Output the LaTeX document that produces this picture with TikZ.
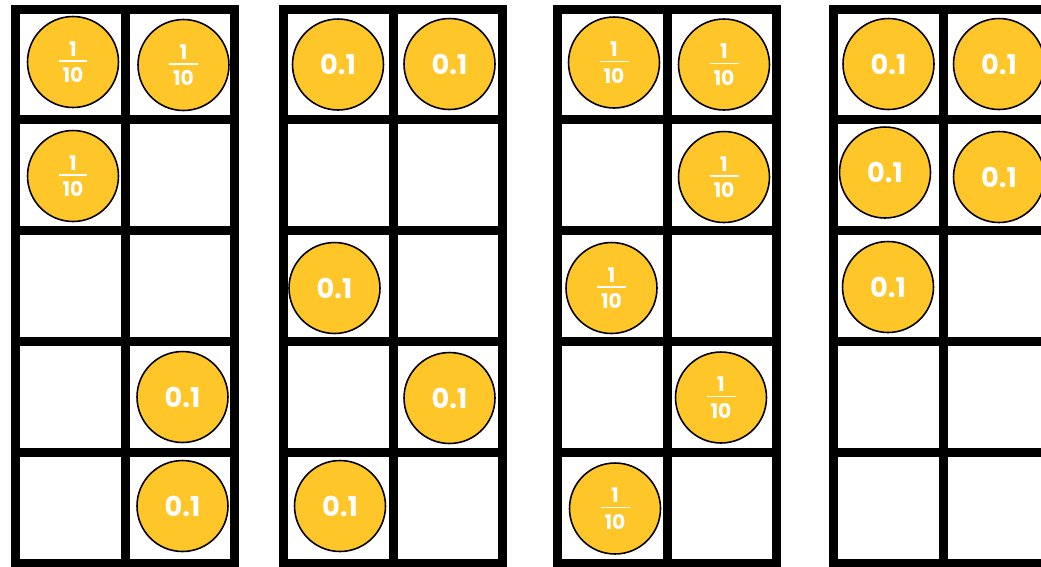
\documentclass[tikz,border=0pt]{standalone}
\usepackage{fontspec}
\newfontfamily\coinfont{Poppins}
\usetikzlibrary{positioning}
\definecolor{coinyellow}{RGB}{255,198,41}
\newcommand{\onetenth}{1\\[-9.2pt]\rule{0.58cm}{1pt}\\[-0.6pt]10}
\tikzset{
  framebar/.style={draw=black, line width=0.18cm, line join=miter},
  coin/.style={circle, minimum size=1.82cm, inner sep=0pt, fill=coinyellow,
    draw=black, line width=0.9pt, text=white, align=center},
  tenthcoin/.style={coin, font=\coinfont\bfseries\fontsize{11.5}{12.5}\selectfont},
  decicoin/.style={coin, font=\coinfont\bfseries\fontsize{15.5}{18}\selectfont},
}
\begin{document}
\begin{tikzpicture}[x=0.02cm, y=-0.02cm]
  \useasboundingbox (0,0) rectangle (1041,566);
  \fill[white] (0,0) rectangle (1041,566);
  \foreach \fx in {15.5,283.5,557.5,833.5} {
    \draw[framebar] (\fx,9) rectangle (\fx+219,563);
    \draw[framebar] (\fx+109.5,9) -- (\fx+109.5,563);
    \foreach \ry in {119.8,230.6,341.4,452.2}
      \draw[framebar] (\fx,\ry) -- (\fx+219,\ry);
  }
  \node[tenthcoin] (a1) at (73,62) {\onetenth};
  \node[tenthcoin] (a2) at (183.5,65) {\onetenth};
  \node[tenthcoin] (a3) at (73,176) {\onetenth};
  \node[decicoin] (a4) at (182.5,397) {0.1};
  \node[decicoin] (a5) at (182.5,506) {0.1};
  \node[decicoin] (b1) at (338,64.5) {0.1};
  \node[decicoin] (b2) at (449.5,64) {0.1};
  \node[decicoin] (b3) at (334.5,288) {0.1};
  \node[decicoin] (b4) at (449.5,398) {0.1};
  \node[decicoin] (b5) at (340,506) {0.1};
  \node[tenthcoin] (c1) at (614,62.5) {\onetenth};
  \node[tenthcoin] (c2) at (724,64.5) {\onetenth};
  \node[tenthcoin] (c3) at (724,177) {\onetenth};
  \node[tenthcoin] (c4) at (611.5,288) {\onetenth};
  \node[tenthcoin] (c5) at (721,397.5) {\onetenth};
  \node[tenthcoin] (c6) at (615,508.5) {\onetenth};
  \node[decicoin] (d1) at (888.5,64) {0.1};
  \node[decicoin] (d2) at (999,64) {0.1};
  \node[decicoin] (d3) at (885,172.5) {0.1};
  \node[decicoin] (d4) at (999,177) {0.1};
  \node[decicoin] (d5) at (888,287) {0.1};
\end{tikzpicture}
\end{document}
